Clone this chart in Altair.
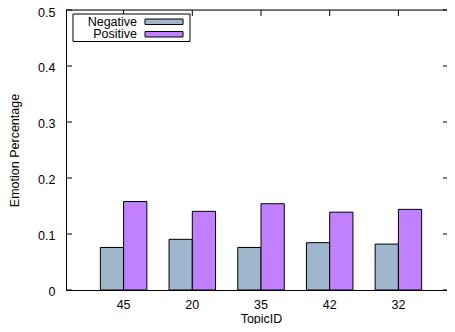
import altair as alt
import pandas as pd

topics = ["45", "20", "35", "42", "32"]
negative = [0.076, 0.0905, 0.076, 0.0845, 0.082]
positive = [0.158, 0.1405, 0.154, 0.139, 0.144]
emotions = ["Negative", "Positive"]
colors = ["#a0b6cd", "#c080ff"]
y_ticks = [0, 0.1, 0.2, 0.3, 0.4, 0.5]

W, H = 381, 280      # visible plot area (the frame runs past the window's right edge)
XR = 390             # full x range of the frame
FONT = "Liberation Sans"
FS = 12.5

rows = []
for t, n, p in zip(topics, negative, positive):
    rows.append({"TopicID": t, "Emotion": "Negative", "value": n})
    rows.append({"TopicID": t, "Emotion": "Positive", "value": p})
df = pd.DataFrame(rows)
df_topics = pd.DataFrame({"TopicID": topics})
df_ticks = pd.DataFrame({"v": y_ticks})
df_leg = pd.DataFrame({"Emotion": emotions})

xscale = alt.Scale(domain=topics, range=[0, XR], paddingOuter=0.5, paddingInner=0.323)
yscale = alt.Scale(domain=[0, 0.5], nice=False, zero=True)
cscale = alt.Scale(domain=emotions, range=colors)

bars = alt.Chart(df).mark_bar(stroke="black", strokeWidth=1).encode(
    x=alt.X("TopicID:N", scale=xscale, sort=topics,
            axis=alt.Axis(title="TopicID", labelAngle=0, ticks=False, tickSize=0,
                          domain=True, domainColor="black", domainWidth=1,
                          labelPadding=8, titleX=W / 2 + 4.5, titleY=32,
                          titleBaseline="alphabetic",
                          labelFont=FONT, labelFontSize=FS, titleFont=FONT,
                          titleFontSize=FS, titleFontWeight="normal",
                          labelColor="black", titleColor="black")),
    xOffset=alt.XOffset("Emotion:N", sort=emotions),
    y=alt.Y("value:Q", scale=yscale,
            axis=alt.Axis(title="Emotion Percentage", values=y_ticks, format="g",
                          ticks=False, tickSize=0, grid=False,
                          labelOffset={"condition": {"test": "datum.value >= 0.5", "value": 2.5},
                                       "value": 1},
                          domain=True, domainColor="black", domainWidth=1,
                          labelPadding=11, titlePadding=16,
                          labelFont=FONT, labelFontSize=FS, titleFont=FONT,
                          titleFontSize=FS, titleFontWeight="normal",
                          labelColor="black", titleColor="black")),
    color=alt.Color("Emotion:N", scale=cscale, legend=None),
)

top_line = alt.Chart(df_topics.head(1)).mark_rule(color="black", strokeWidth=1).encode(
    x=alt.value(0), x2=alt.value(W), y=alt.value(0)
)
left_ticks = alt.Chart(df_ticks).mark_rule(color="black", strokeWidth=1).encode(
    y=alt.Y("v:Q", scale=yscale, axis=None),
    x=alt.value(0), x2=alt.value(6),
)
right_ticks = alt.Chart(df_ticks).mark_rule(color="black", strokeWidth=1).encode(
    y=alt.Y("v:Q", scale=yscale, axis=None),
    x=alt.value(W - 4), x2=alt.value(W),
)
top_ticks = alt.Chart(df_topics).mark_rule(color="black", strokeWidth=1).encode(
    x=alt.X("TopicID:N", scale=xscale, sort=topics),
    y=alt.value(0), y2=alt.value(6),
)

leg_box = alt.Chart(df_topics.head(1)).mark_rect(
    fill="white", stroke="black", strokeWidth=1
).encode(
    x=alt.value(7), x2=alt.value(124), y=alt.value(4), y2=alt.value(31.5)
)
leg_y = alt.Scale(type="band", domain=emotions, range=[9, 27],
                  paddingInner=0.56, paddingOuter=0)
leg_sw = alt.Chart(df_leg).mark_rect(stroke="black", strokeWidth=1).encode(
    y=alt.Y("Emotion:N", scale=leg_y, axis=None),
    x=alt.value(79), x2=alt.value(117),
    color=alt.Color("Emotion:N", scale=cscale, legend=None),
)
leg_txt = alt.Chart(df_leg).mark_text(
    align="right", baseline="middle", font=FONT, fontSize=FS, color="black"
).encode(
    y=alt.Y("Emotion:N", scale=leg_y, axis=None),
    x=alt.value(71),
    text="Emotion:N",
)

chart = alt.layer(
    bars, top_line, left_ticks, right_ticks, top_ticks, leg_box, leg_sw, leg_txt
).resolve_scale(y="independent").properties(
    width=W, height=H,
    autosize=alt.AutoSizeParams(type="none"),
    padding={"left": 58, "top": 2, "right": 0, "bottom": 34},
).configure_view(stroke=None).configure(background="white")

chart.save("out.html", embed_options={"renderer": "svg", "actions": False})
